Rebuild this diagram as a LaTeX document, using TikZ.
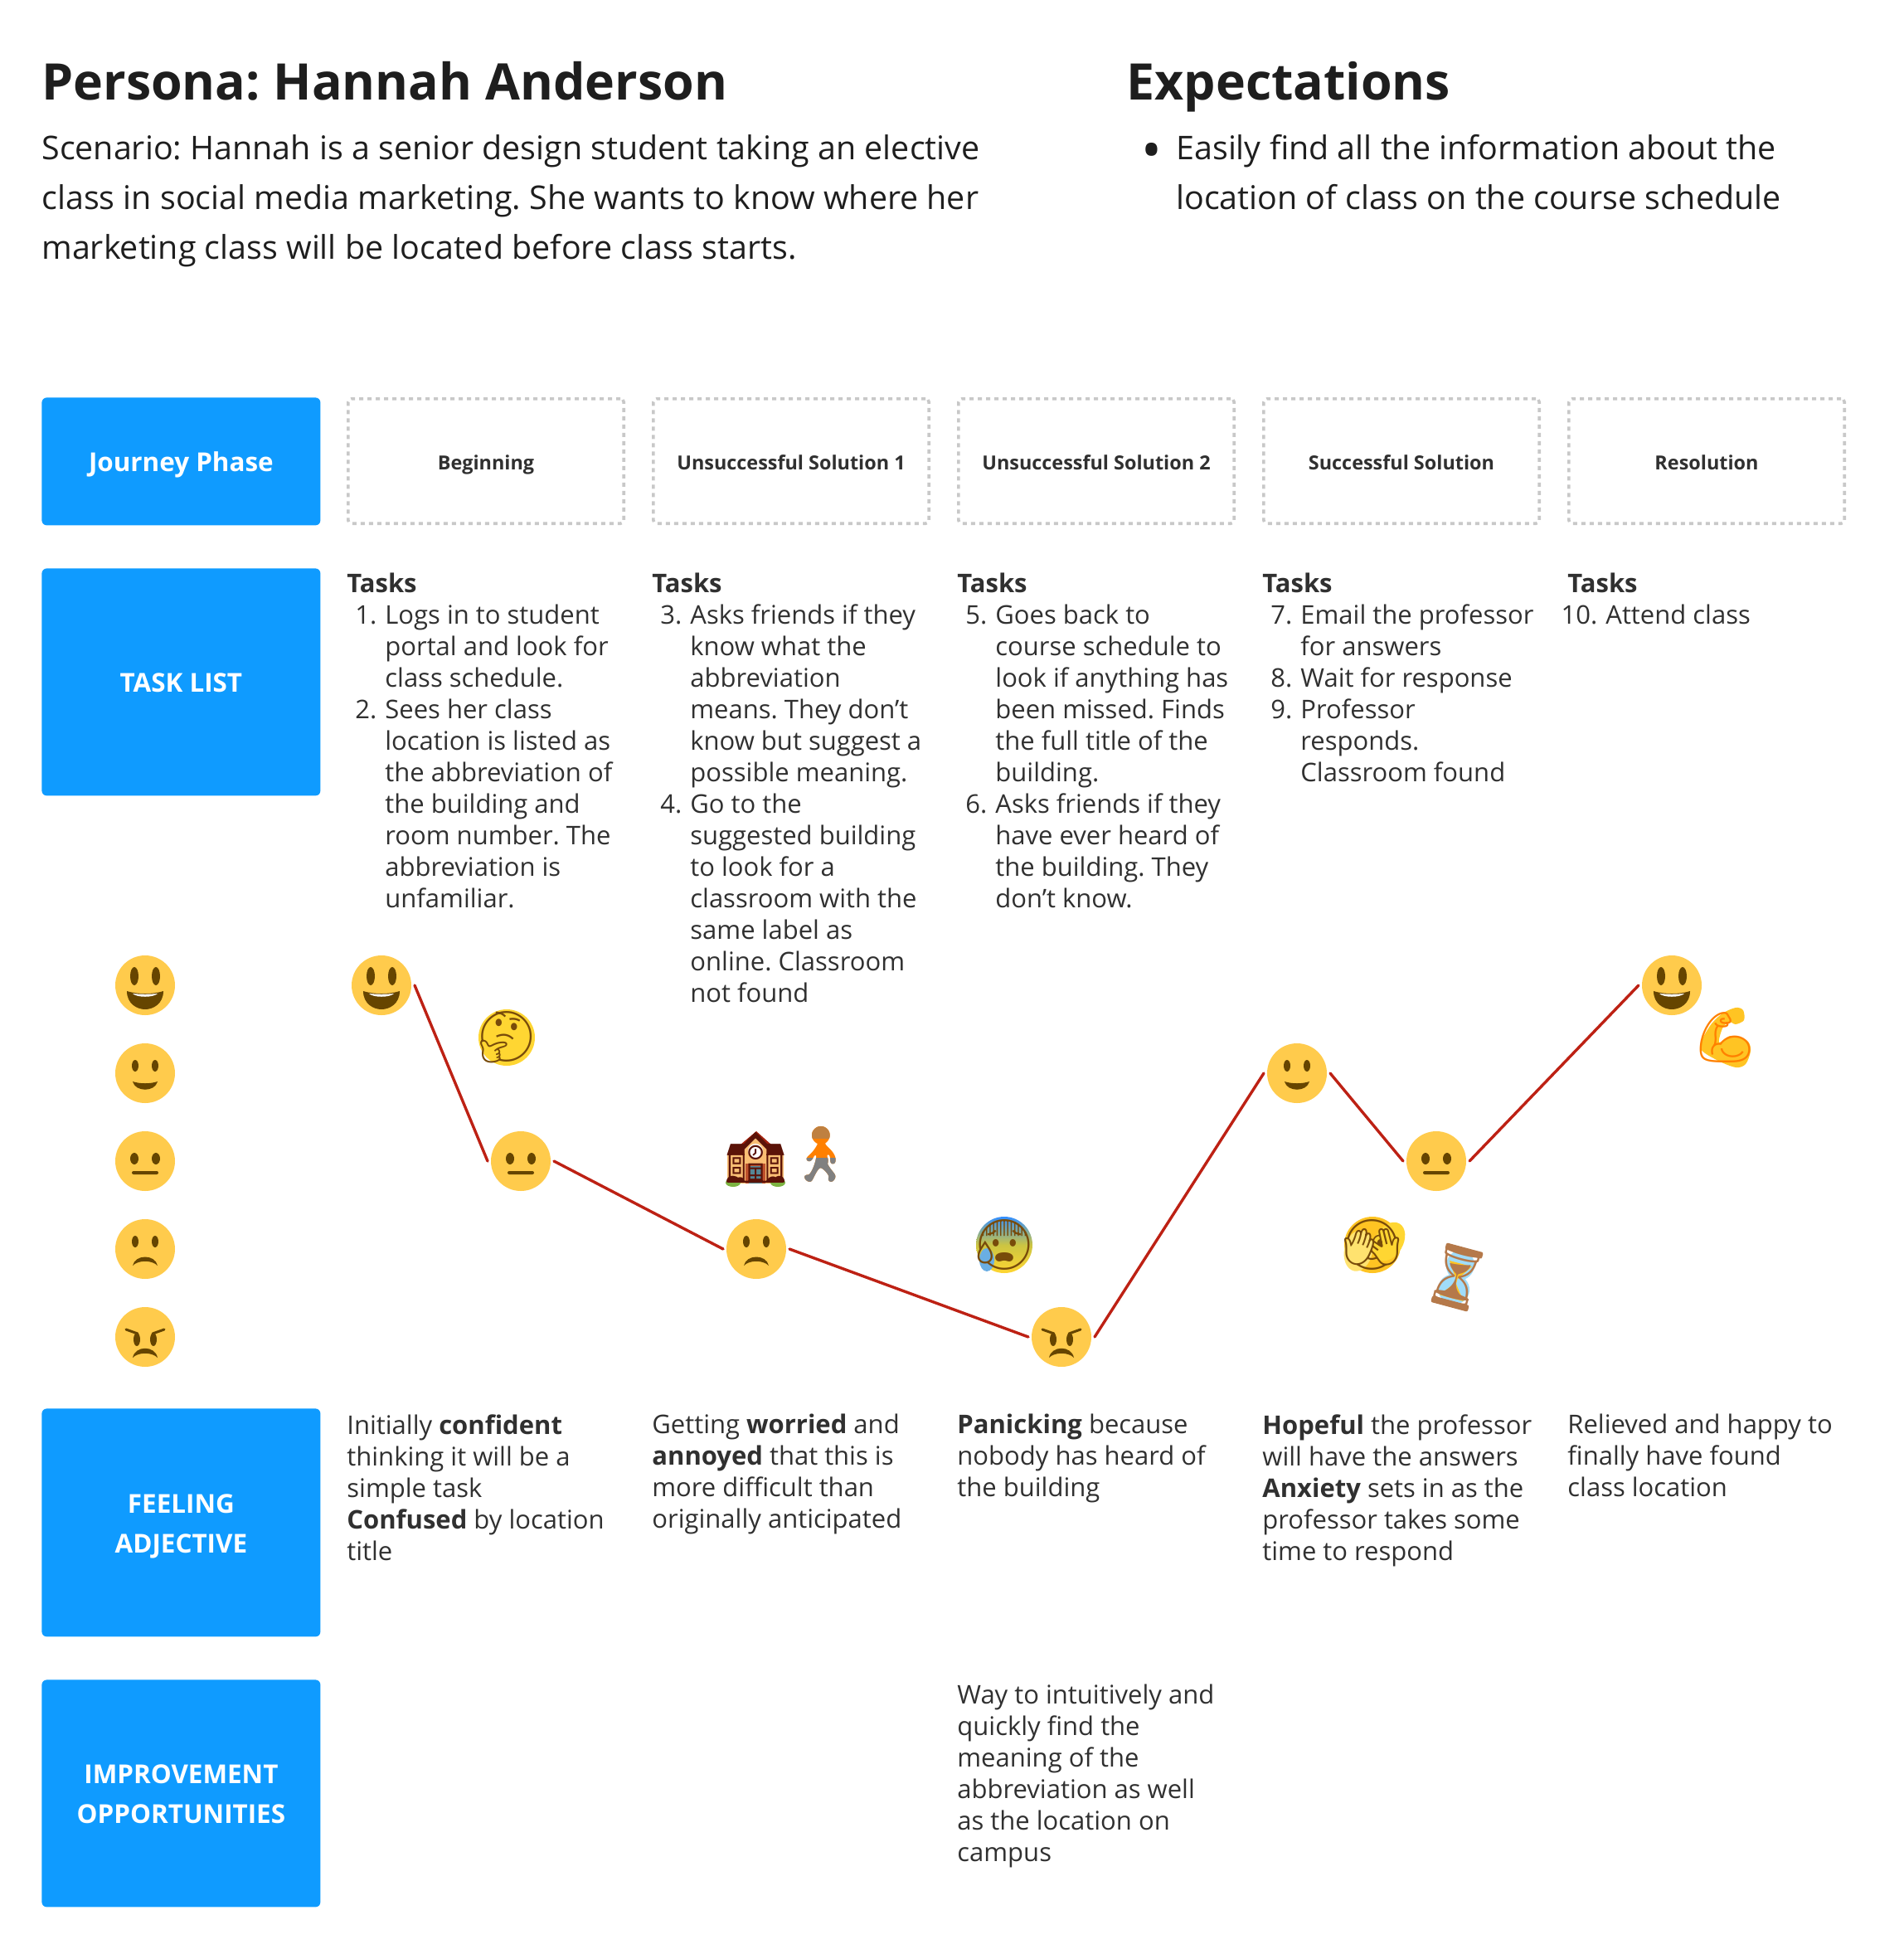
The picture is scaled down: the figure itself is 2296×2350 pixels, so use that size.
\documentclass[tikz,border=0pt]{standalone}
\usepackage{fontspec}
\usepackage{xcolor}
\usepackage{tikz}
\usetikzlibrary{arrows.meta, positioning, calc}
\setmainfont{Open Sans}
\newfontfamily\emojifont{Noto Emoji}
\frenchspacing
\definecolor{themeblue}{RGB}{15, 155, 255}
\definecolor{themedark}{RGB}{30, 30, 30}
\definecolor{themetext}{RGB}{48, 48, 48}
\definecolor{themegray}{RGB}{200, 200, 200}
\definecolor{themered}{RGB}{189, 33, 20}
\definecolor{facefill}{RGB}{255, 203, 76}
\definecolor{facedark}{RGB}{102, 69, 0}
\definecolor{emojiline}{RGB}{120, 75, 10}
\definecolor{emojiyellow}{RGB}{255, 214, 50}
\definecolor{emojigold}{RGB}{255, 196, 35}
\definecolor{schooltan}{RGB}{249, 190, 116}
\definecolor{schoolroof}{RGB}{165, 35, 15}
\definecolor{schoolteal}{RGB}{84, 135, 150}
\definecolor{bushgreen}{RGB}{124, 179, 66}
\definecolor{capbrown}{RGB}{181, 121, 74}
\definecolor{glassblue}{RGB}{160, 220, 250}
\newcommand{\tnum}[1]{\makebox[18pt][r]{#1}\hspace{5pt}}
\newcommand{\tind}{\hspace{23pt}}
\tikzset{
    titletext/.style={anchor=north west, inner sep=0pt, text=themedark, font=\fontsize{30.4}{36}\selectfont\bfseries},
    leadtext/.style={anchor=north west, inner sep=0pt, align=left, text=themedark, font=\fontsize{19.7}{30}\selectfont},
    rowbox/.style={anchor=north west, fill=themeblue, rounded corners=3pt, minimum width=168pt, text=white, align=center, text height=14.5pt, text depth=2pt, font=\fontsize{15.7}{24}\selectfont\bfseries},
    rowboxtwo/.style={rowbox, text height=38.5pt},
    phasebox/.style={anchor=north west, draw=themegray, line width=1.8pt, dash pattern=on 2.5pt off 2.5pt, rounded corners=2pt, minimum width=166.2pt, minimum height=75.2pt, text=themetext, text height=12pt, text depth=1.5pt, font=\fontsize{11.7}{14}\selectfont\bfseries},
    celltext/.style={anchor=north west, inner sep=0pt, align=left, text=themetext, font=\fontsize{15.5}{19}\selectfont},
    face/.style={circle, fill=facefill, minimum size=36pt, inner sep=0pt, outer sep=2pt},
    laugh/.style={face, path picture={
        \begin{scope}[shift={(path picture bounding box.center)}]
            \fill[facedark] (-13,-11) ellipse (2.5pt and 5.5pt) (13,-11) ellipse (2.5pt and 5.5pt);
            \fill[facedark] (-22,7) .. controls (-10,11) and (10,11) .. (22,7) .. controls (22,22) and (10,29) .. (0,29) .. controls (-10,29) and (-22,22) .. (-22,7);
            \fill[white] (-15,10) .. controls (-6,11) and (6,11) .. (15,10) .. controls (10,15) and (-10,15) .. (-15,10);
        \end{scope}}},
    smile/.style={face, path picture={
        \begin{scope}[shift={(path picture bounding box.center)}]
            \fill[facedark] (-12,-9) ellipse (2pt and 3.5pt) (12,-9) ellipse (2pt and 3.5pt);
            \fill[facedark] (-15,10) .. controls (-6,13) and (6,13) .. (15,10) .. controls (12,23) and (-12,23) .. (-15,10);
        \end{scope}}},
    flat/.style={face, path picture={
        \begin{scope}[shift={(path picture bounding box.center)}]
            \fill[facedark] (-13,-3) ellipse (2.5pt and 3.5pt) (13,-3) ellipse (2.5pt and 3.5pt);
            \fill[facedark, rounded corners=1pt] (-16,12) rectangle (16,16);
        \end{scope}}},
    frown/.style={face, path picture={
        \begin{scope}[shift={(path picture bounding box.center)}]
            \fill[facedark] (-12,-9) ellipse (2pt and 3.5pt) (12,-9) ellipse (2pt and 3.5pt);
            \fill[facedark] (-15,20) .. controls (-12,6) and (12,6) .. (15,20) .. controls (8,13) and (-8,13) .. (-15,20);
        \end{scope}}},
    angry/.style={face, path picture={
        \begin{scope}[shift={(path picture bounding box.center)}]
            \fill[facedark] (-10,3) ellipse (2pt and 4pt) (10,3) ellipse (2pt and 4pt);
            \draw[facedark, line width=1.5pt, line cap=round] (-23,-9) -- (-9,-4) (23,-9) -- (9,-4);
            \fill[facedark] (-15,25) .. controls (-12,10) and (12,10) .. (15,25) .. controls (8,18) and (-8,18) .. (-15,25);
        \end{scope}}},
    feel/.style={line width=1.7pt, themered, line cap=round},
    emoji/.style={inner sep=0pt, text=emojiline, font=\emojifont\fontsize{30}{30}\selectfont},
}
\begin{document}
\begin{tikzpicture}[x=0.5pt, y=-0.5pt]
    \useasboundingbox (0,0) rectangle (2296,2350);
    \node[titletext] (title) at (50,74) {Persona: Hannah Anderson};
    \node[titletext] (expect) at (1358,74) {Expectations};
    \node[leadtext] (scenario) at (50,162) {Scenario: Hannah is a senior design student taking an elective\\class in social media marketing. She wants to know where her\\marketing class will be located before class starts.};
    \node[leadtext] (wishes) at (1376,162) {\makebox[21pt][l]{\raisebox{-6pt}[0pt][0pt]{\fontsize{33}{30}\selectfont\textbullet}}Easily find all the information about the\\\hspace{21pt}location of class on the course schedule};

    \node[rowbox, minimum height=77pt] (rowPhase) at (50,479) {Journey Phase};
    \node[rowbox, minimum height=137pt] (rowTask) at (50,685) {TASK LIST};
    \node[rowboxtwo, minimum height=137.5pt] (rowFeel) at (50,1698) {FEELING\\ADJECTIVE};
    \node[rowboxtwo, minimum height=137pt] (rowImprove) at (50,2025) {IMPROVEMENT\\OPPORTUNITIES};

    \node[phasebox] (phaseA) at (418,479) {Beginning};
    \node[phasebox] (phaseB) at (786,479) {Unsuccessful Solution 1};
    \node[phasebox] (phaseC) at (1154,479) {Unsuccessful Solution 2};
    \node[phasebox] (phaseD) at (1522,479) {Successful Solution};
    \node[phasebox] (phaseE) at (1890,479) {Resolution};

    \node[celltext] (taskA) at (418,691) {\textbf{Tasks}\\
        \tnum{1.}Logs in to student\\\tind portal and look for\\\tind class schedule.\\
        \tnum{2.}Sees her class\\\tind location is listed as\\\tind the abbreviation of\\\tind the building and\\\tind room number. The\\\tind abbreviation is\\\tind unfamiliar.};
    \node[celltext] (taskB) at (786,691) {\textbf{Tasks}\\
        \tnum{3.}Asks friends if they\\\tind know what the\\\tind abbreviation\\\tind means. They don’t\\\tind know but suggest a\\\tind possible meaning.\\
        \tnum{4.}Go to the\\\tind suggested building\\\tind to look for a\\\tind classroom with the\\\tind same label as\\\tind online. Classroom\\\tind not found};
    \node[celltext] (taskC) at (1154,691) {\textbf{Tasks}\\
        \tnum{5.}Goes back to\\\tind course schedule to\\\tind look if anything has\\\tind been missed. Finds\\\tind the full title of the\\\tind building.\\
        \tnum{6.}Asks friends if they\\\tind have ever heard of\\\tind the building. They\\\tind don’t know.};
    \node[celltext] (taskD) at (1522,691) {\textbf{Tasks}\\
        \tnum{7.}Email the professor\\\tind for answers\\
        \tnum{8.}Wait for response\\
        \tnum{9.}Professor\\\tind responds.\\\tind Classroom found};
    \node[celltext] (taskE) at (1890,691) {\textbf{Tasks}\\
        \tnum{10.}Attend class};

    \node[laugh] (scaleA) at (175,1188) {};
    \node[smile] (scaleB) at (175,1294) {};
    \node[flat] (scaleC) at (175,1400) {};
    \node[frown] (scaleD) at (175,1506) {};
    \node[angry] (scaleE) at (175,1612) {};

    \node[laugh] (moodA) at (460,1188) {};
    \node[flat] (moodB) at (628,1400) {};
    \node[frown] (moodC) at (912,1506) {};
    \node[angry] (moodD) at (1280,1612) {};
    \node[smile] (moodE) at (1564,1294) {};
    \node[flat] (moodF) at (1732,1400) {};
    \node[laugh] (moodG) at (2016,1188) {};

    \draw[feel] (moodA.east) -- (moodB.west);
    \draw[feel] (moodB.east) -- (moodC.west);
    \draw[feel] (moodC.east) -- (moodD.west);
    \draw[feel] (moodD.east) -- (moodE.west);
    \draw[feel] (moodE.east) -- (moodF.west);
    \draw[feel] (moodF.east) -- (moodG.west);

    \fill[emojiyellow] (611,1251) circle (17pt);
    \node[emoji] (emoThink) at (611,1251) {🤔};

    \fill[schooltan] (877,1392) rectangle (945,1427);
    \fill[schooltan] (895,1427) -- (895,1386) -- (912,1372) -- (929,1386) -- (929,1427) -- cycle;
    \fill[schoolroof] (877,1392) -- (882,1380) -- (893,1380) -- (912,1364) -- (930,1380) -- (940,1380) -- (945,1392) -- (929,1392) -- (929,1384) -- (912,1371) -- (895,1384) -- (895,1392) -- cycle;
    \fill[schoolroof!70!schooltan] (899,1403) rectangle (923,1427);
    \fill[schoolteal] (903,1406) rectangle (919,1427);
    \fill[white] (911,1388) circle (4.5pt);
    \fill[bushgreen] (884,1426) ellipse (4.5pt and 2.5pt) (938,1426) ellipse (4.5pt and 2.5pt);
    \node[emoji, text=schoolroof!55!black] (emoSchool) at (912,1396) {🏫};

    \node[emoji, text=orange, font=\emojifont\fontsize{33}{33}\selectfont] (emoWalk) at (989,1392) {🚶};
    \begin{scope}
        \clip (960,1396) rectangle (1020,1440);
        \node[emoji, text=gray, font=\emojifont\fontsize{33}{33}\selectfont] (emoWalkLegs) at (989,1392) {🚶};
    \end{scope}
    \begin{scope}
        \clip (960,1340) rectangle (1020,1372);
        \node[emoji, text=brown, font=\emojifont\fontsize{33}{33}\selectfont] (emoWalkHead) at (989,1392) {🚶};
    \end{scope}

    \shade[top color=blue!55!cyan!80, bottom color=emojiyellow, middle color=emojiyellow!80!teal] (1211,1501) circle (17pt);
    \fill[cyan!70!blue!60] (1190,1519) ellipse (4.5pt and 7pt);
    \node[emoji] (emoCold) at (1211,1501) {😰};

    \fill[emojigold] (1655,1501) circle (17pt);
    \fill[emojiyellow!70!white, rotate around={-12:(1638,1508)}] (1638,1508) ellipse (8.5pt and 12.5pt);
    \fill[emojiyellow, rotate around={-30:(1675,1497)}] (1675,1497) ellipse (8.5pt and 12.5pt);
    \node[emoji] (emoPeek) at (1655,1501) {🫣};

    \begin{scope}[shift={(1757,1540)}, rotate=-15]
        \fill[glassblue] (0,-15) ellipse (8.5pt and 9pt) (0,15) ellipse (9.5pt and 9pt);
        \fill[emojigold] (-14,-17) -- (14,-17) -- (1,2) -- (1,8) -- (15,26) -- (-15,26) -- (-1,8) -- (-1,2) -- cycle;
        \fill[capbrown, rounded corners=1pt] (-23,-37) rectangle (23,-29);
        \fill[capbrown, rounded corners=1pt] (-23,29) rectangle (23,37);
    \end{scope}
    \node[emoji, rotate=-15, text=capbrown, font=\emojifont\fontsize{33}{33}\selectfont] (emoGlass) at (1757,1540) {⏳};

    \fill[emojigold] plot[smooth cycle] coordinates {(2050,1263) (2062,1237) (2077,1222) (2093,1215) (2102,1218) (2103,1230) (2093,1235) (2085,1232) (2077,1240) (2073,1257) (2087,1249) (2107,1255) (2111,1267) (2105,1283) (2093,1287) (2070,1278)};
    \node[emoji, text=orange] (emoArm) at (2081,1251) {💪};

    \node[celltext] (feelA) at (418,1705) {Initially \textbf{confident}\\thinking it will be a\\simple task\\\textbf{Confused} by location\\title};
    \node[celltext] (feelB) at (786,1705) {Getting \textbf{worried} and\\\textbf{annoyed} that this is\\more difficult than\\originally anticipated};
    \node[celltext] (feelC) at (1154,1705) {\textbf{Panicking} because\\nobody has heard of\\the building};
    \node[celltext] (feelD) at (1522,1705) {\textbf{Hopeful} the professor\\will have the answers\\\textbf{Anxiety} sets in as the\\professor takes some\\time to respond};
    \node[celltext] (feelE) at (1890,1705) {Relieved and happy to\\finally have found\\class location};

    \node[celltext] (improveC) at (1154,2031) {Way to intuitively and\\quickly find the\\meaning of the\\abbreviation as well\\as the location on\\campus};
\end{tikzpicture}
\end{document}
